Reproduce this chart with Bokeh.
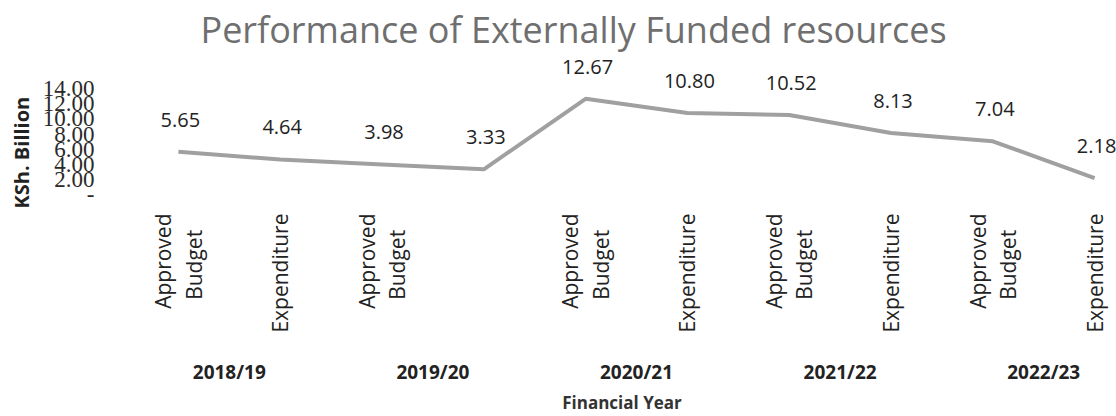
import math
from bokeh.plotting import figure
from bokeh.models import Range1d, FixedTicker, LinearAxis, Title, ColumnDataSource
from bokeh.embed import file_html
from bokeh.resources import INLINE
from bokeh.core.properties import value

PAD = "\u00a0" * 3 + "\u200b"
years = ["2018/19", "2019/20", "2020/21", "2021/22", "2022/23"]
sub_labels = ["Approved\nBudget" + PAD, "Expenditure", "Approved\nBudget" + PAD, "",
              "Approved\nBudget" + PAD, "Expenditure", "Approved\nBudget" + PAD, "Expenditure",
              "Approved\nBudget" + PAD, "Expenditure"]
values = [5.65, 4.64, 3.98, 3.33, 12.67, 10.80, 10.52, 8.13, 7.04, 2.18]
y_ticks = [0, 2, 4, 6, 8, 10, 12, 14]

xs = list(range(len(values)))
year_pos = [2 * i + 0.5 for i in range(len(years))]

src = ColumnDataSource(dict(x=xs, y=values, lbl=[f"{v:.2f}" for v in values]))

p = figure(width=1116, height=416, output_backend="svg", toolbar_location=None,
           x_range=Range1d(-0.5, 9.215), y_range=Range1d(0, 18.4),
           x_axis_location=None, min_border_left=127, min_border_right=0,
           min_border_top=0, min_border_bottom=0)
p.outline_line_color = None
p.grid.visible = False

p.title.text = "Performance of Externally Funded resources"
p.title.text_font = "Open Sans"
p.title.text_font_size = "36px"
p.title.text_font_style = "normal"
p.title.text_color = "#6f6f6f"
p.title.align = "left"
p.title.offset = 73
p.title.standoff = 4

ya = p.yaxis[0]
ya.ticker = FixedTicker(ticks=y_ticks)
ya.major_label_overrides = {t: ("-" if t == 0 else f"{t:.2f}") for t in y_ticks}
ya.axis_line_color = None
ya.major_tick_line_color = None
ya.minor_tick_line_color = None
ya.major_label_standoff = 27
ya.major_label_text_font = "Liberation Serif"
ya.major_label_text_font_size = "23px"
ya.major_label_text_color = "#2a2a2a"

ylab = Title(text="KSh. Billion", align="left", offset=-14,
             text_font="Open Sans", text_font_size="20px", text_font_style="bold",
             text_color="#222222", standoff=10)
p.add_layout(ylab, "left")

ax1 = LinearAxis(ticker=FixedTicker(ticks=xs),
                 major_label_overrides={i: s for i, s in zip(xs, sub_labels)},
                 major_label_orientation=math.pi / 2)
ax1.axis_line_color = None
ax1.major_tick_line_color = None
ax1.minor_tick_line_color = None
ax1.major_label_standoff = 13
ax1.major_label_text_font = "Open Sans"
ax1.major_label_text_font_size = "21px"
ax1.major_label_text_line_height = 1.08
ax1.major_label_text_color = "#222222"
p.add_layout(ax1, "below")

ax2 = LinearAxis(ticker=FixedTicker(ticks=year_pos),
                 major_label_overrides={t: y for t, y in zip(year_pos, years)},
                 axis_label="Financial Year")
ax2.axis_line_color = None
ax2.major_tick_line_color = None
ax2.minor_tick_line_color = None
ax2.major_label_standoff = 17
ax2.major_label_text_font = "Open Sans"
ax2.major_label_text_font_size = "19px"
ax2.major_label_text_font_style = "bold"
ax2.major_label_text_color = "#222222"
ax2.axis_label_text_font = "Open Sans"
ax2.axis_label_text_font_size = "17px"
ax2.axis_label_text_font_style = "bold"
ax2.axis_label_text_color = "#333333"
ax2.axis_label_standoff = 3
p.add_layout(ax2, "below")

p.line("x", "y", source=src, line_color="#a0a0a0", line_width=4)
p.text("x", "y", text="lbl", source=src, x_offset=2, y_offset=-32,
       text_align="center", text_baseline="middle",
       text_font=value("Open Sans"), text_font_size="20px", text_color="#222222")

open("out.html", "w").write(file_html(p, INLINE))
